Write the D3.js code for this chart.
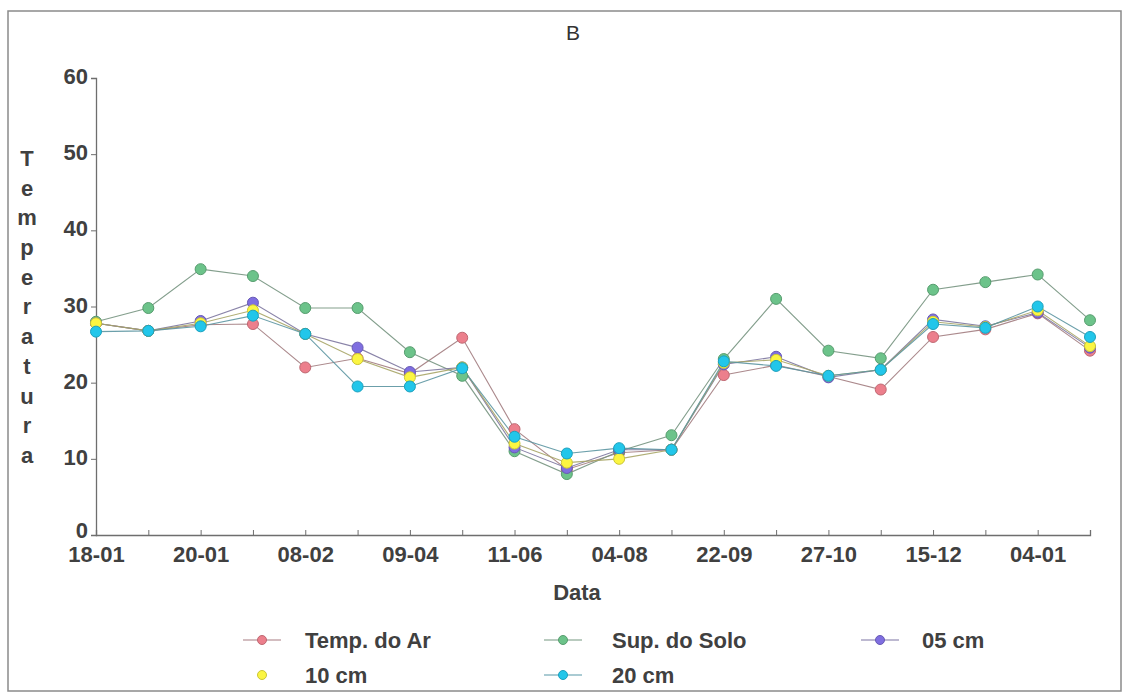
<!DOCTYPE html>
<html>
<head>
<meta charset="utf-8">
<script src="https://cdn.jsdelivr.net/npm/d3@7"></script>
<style>
  body { margin: 0; background: #fff; }
  text { font-family: "Liberation Sans", Arial, sans-serif; }
</style>
</head>
<body>
<div id="chart"></div>
<script>
// tick labels, one per sampling date (only every other one is printed)
var dateLabels = ["18-01", "", "20-01", "", "08-02", "", "09-04", "", "11-06", "",
                  "04-08", "", "22-09", "", "27-10", "", "15-12", "", "04-01", ""];

// series values
var tempAr   = [27.8, 26.8, 27.6, 27.7, 22.0, 23.2, 21.2, 25.9, 13.9, 8.6, 10.8, 11.2, 21.0, 22.3, 20.8, 19.1, 26.0, 27.0, 29.1, 24.2];
var supSolo  = [28.0, 29.8, 34.9, 34.0, 29.8, 29.8, 24.0, 20.9, 11.0, 8.0, 11.0, 13.1, 23.1, 31.0, 24.2, 23.2, 32.2, 33.2, 34.2, 28.2];
var cm05     = [27.8, 26.8, 28.1, 30.5, 26.4, 24.6, 21.4, 22.0, 11.5, 8.8, 11.2, 11.2, 22.4, 23.4, 20.7, 21.7, 28.3, 27.4, 29.2, 24.6];
var cm10     = [27.8, 26.8, 27.8, 29.5, 26.4, 23.1, 20.7, 22.0, 12.0, 9.5, 10.0, 11.2, 22.6, 23.0, 20.9, 21.7, 28.0, 27.3, 29.5, 24.8];
var cm20     = [26.7, 26.8, 27.4, 28.8, 26.4, 19.5, 19.5, 21.9, 12.9, 10.7, 11.4, 11.2, 22.8, 22.2, 20.9, 21.7, 27.7, 27.2, 30.0, 26.0];

var yTicks = [0, 10, 20, 30, 40, 50, 60];

var seriesNames  = ["Temp. do Ar", "Sup. do Solo", "05 cm", "10 cm", "20 cm"];
var seriesValues = [tempAr, supSolo, cm05, cm10, cm20];
var seriesColors = ["#ec7f8c", "#6cc38a", "#7f6ee0", "#fbf542", "#22c6ea"];

var W = 1124, H = 694;
var svg = d3.select("#chart").append("svg")
    .attr("width", W)
    .attr("height", H);

//Outer frame
svg.append("rect")
    .attr("x", 8).attr("y", 11)
    .attr("width", 1113).attr("height", 680)
    .attr("fill", "none")
    .attr("stroke", "#8a8a8a")
    .attr("stroke-width", 1.5);

var x = d3.scaleLinear().domain([0, dateLabels.length - 1]).range([96, 1090]);
var y = d3.scaleLinear().domain([0, 60]).range([535, 78]);

//Y axis
var yAxis = svg.append("g")
    .attr("transform", "translate(" + x(0) + ",0)")
    .call(d3.axisLeft(y).tickValues(yTicks).tickSize(5).tickPadding(3));
//X axis
var xAxis = svg.append("g")
    .attr("transform", "translate(0," + y(0) + ")")
    .call(d3.axisBottom(x)
      .tickValues(d3.range(dateLabels.length))
      .tickFormat(function(i) { return dateLabels[i]; })
      .tickSize(-5).tickPadding(9));

[xAxis, yAxis].forEach(function(a) {
  a.select(".domain").attr("stroke", "#6e6e6e").attr("stroke-width", 1.3);
  a.selectAll(".tick line").attr("stroke", "#6e6e6e");
  a.selectAll(".tick text")
    .attr("fill", "#404040")
    .style("font-size", "22px")
    .style("font-weight", "bold");
});
xAxis.selectAll(".tick text").attr("dy", "0.8em");
yAxis.selectAll(".tick text").attr("dy", "0.25em");
//The "0" sits a little higher so it clears the first date label
yAxis.selectAll(".tick text").filter(function(d) { return d === 0; }).attr("dy", "0.1em");

//Lines first, then the markers
var line = d3.line()
    .x(function(d, i) { return x(i); })
    .y(function(d) { return y(d); });

seriesValues.forEach(function(vals, s) {
  svg.append("path")
      .datum(vals)
      .attr("d", line)
      .attr("fill", "none")
      .attr("stroke", d3.interpolateRgb(seriesColors[s], "#7a7a7a")(0.65))
      .attr("stroke-width", 1.1)
      .attr("opacity", 0.9);
});
seriesValues.forEach(function(vals, s) {
  svg.append("g").selectAll("circle")
      .data(vals)
    .enter().append("circle")
      .attr("cx", function(d, i) { return x(i); })
      .attr("cy", function(d) { return y(d); })
      .attr("r", 5.5)
      .attr("fill", seriesColors[s])
      .attr("stroke", d3.color(seriesColors[s]).darker(0.6))
      .attr("stroke-width", 1);
});

//Title and axis titles
svg.append("text")
    .attr("x", 573).attr("y", 40)
    .attr("text-anchor", "middle")
    .style("font-size", "21px")
    .attr("fill", "#333")
    .text("B");

svg.append("text")
    .attr("x", 577).attr("y", 600)
    .attr("text-anchor", "middle")
    .style("font-size", "22px")
    .style("font-weight", "bold")
    .attr("fill", "#404040")
    .text("Data");

var yTitle = "Temperatura".split("");
svg.append("g").selectAll("text")
    .data(yTitle)
  .enter().append("text")
    .attr("x", 27)
    .attr("y", function(d, i) { return 158 + i * 29.7; })
    .attr("dy", "0.36em")
    .attr("text-anchor", "middle")
    .style("font-size", "22px")
    .style("font-weight", "bold")
    .attr("fill", "#404040")
    .text(function(d) { return d; });

//Legend
var legendPos = [[262, 640], [563, 640], [880, 640], [262, 675], [563, 675]];
var legend = svg.append("g").selectAll("g")
    .data(seriesNames)
  .enter().append("g")
    .attr("transform", function(d, i) { return "translate(" + legendPos[i][0] + "," + legendPos[i][1] + ")"; });

legend.filter(function(d, i) { return i !== 3; })
  .append("line")
    .attr("x1", -19).attr("x2", 19)
    .attr("stroke", function(d) { return d3.interpolateRgb(seriesColors[seriesNames.indexOf(d)], "#7a7a7a")(0.6); })
    .attr("stroke-width", 1.2);
legend.append("circle")
    .attr("r", 4.5)
    .attr("fill", function(d, i) { return seriesColors[i]; })
    .attr("stroke", function(d, i) { return d3.color(seriesColors[i]).darker(0.6); });
legend.append("text")
    .attr("x", function(d, i) { return i === 2 ? 42 : (i % 3 === 1 || i === 4 ? 49 : 43); })
    .attr("dy", "0.36em")
    .style("font-size", "22px")
    .style("font-weight", "bold")
    .attr("fill", "#404040")
    .text(function(d) { return d; });
</script>
</body>
</html>
